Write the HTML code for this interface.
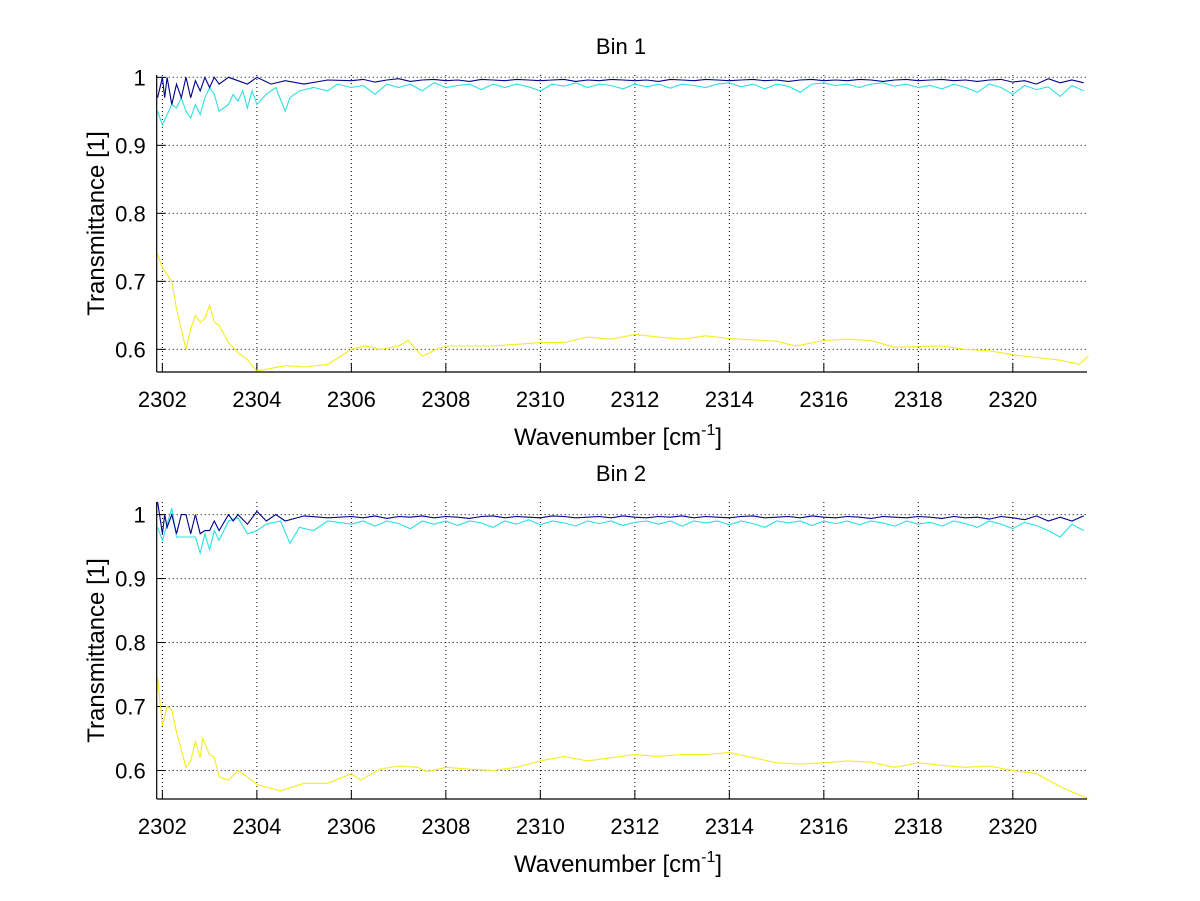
<!DOCTYPE html>
<html><head><meta charset="utf-8"><style>
html,body{margin:0;padding:0;background:#fff;}
svg{display:block;font-family:"Liberation Sans",sans-serif;}
</style></head><body>
<svg id="fig" width="1200" height="901" viewBox="0 0 1200 901"></svg>
<script>
const xTicks=[2302,2304,2306,2308,2310,2312,2314,2316,2318,2320];
const yTicks=[0.6,0.7,0.8,0.9,1];
const flatStart=2306, flatStep=0.25;

// Bin 1
const b1YellowX=[2301.9,2302.0,2302.1,2302.2,2302.3,2302.5,2302.6,2302.7,2302.8,2302.9,2303.0,2303.1,2303.2,2303.4,2303.6,2303.8,2304.0,2304.3,2304.6,2305,2305.5,2306,2306.3,2306.6,2307,2307.2,2307.5,2307.8,2308,2309,2310,2310.5,2311,2311.5,2312,2312.5,2313,2313.5,2314,2315,2315.4,2316,2316.5,2317,2317.5,2318,2318.5,2319,2319.5,2320,2320.5,2321,2321.4,2321.6];
const b1YellowY=[0.74,0.72,0.71,0.70,0.66,0.60,0.63,0.65,0.64,0.645,0.665,0.64,0.635,0.61,0.595,0.585,0.568,0.572,0.576,0.574,0.578,0.60,0.605,0.60,0.605,0.613,0.59,0.60,0.605,0.605,0.61,0.61,0.618,0.615,0.622,0.618,0.615,0.62,0.616,0.612,0.605,0.613,0.615,0.613,0.603,0.604,0.605,0.60,0.598,0.592,0.588,0.584,0.578,0.59];
const b1BlueX=[2301.9,2302.0,2302.05,2302.1,2302.2,2302.3,2302.4,2302.5,2302.6,2302.7,2302.8,2302.9,2303,2303.1,2303.2,2303.4,2303.6,2303.8,2304,2304.3,2304.6,2305,2305.5];
const b1BlueY=[0.97,1.0,0.97,1.0,0.96,0.99,0.97,1.0,0.97,0.995,0.98,1.0,0.985,1.0,0.99,1.0,0.995,0.99,1.0,0.99,0.995,0.99,0.996];
const b1BlueFlat=[0.995,0.997,0.993,0.996,0.998,0.994,0.996,0.997,0.995,0.996,0.994,0.997,0.996,0.995,0.997,0.996,0.995,0.996,0.997,0.994,0.996,0.995,0.997,0.996,0.995,0.996,0.994,0.997,0.996,0.995,0.997,0.996,0.995,0.996,0.997,0.995,0.996,0.994,0.996,0.997,0.995,0.996,0.995,0.997,0.996,0.994,0.996,0.997,0.995,0.996,0.997,0.995,0.996,0.994,0.996,0.997,0.993,0.995,0.99,0.998,0.992,0.996,0.992];
const b1CyanX=[2301.9,2302,2302.1,2302.2,2302.3,2302.4,2302.5,2302.6,2302.7,2302.8,2302.9,2303.0,2303.1,2303.2,2303.4,2303.5,2303.6,2303.7,2303.8,2303.9,2304.0,2304.2,2304.4,2304.6,2304.7,2304.9,2305.2,2305.5,2305.7];
const b1CyanY=[0.95,0.93,0.945,0.96,0.955,0.97,0.95,0.94,0.96,0.945,0.97,0.985,0.975,0.95,0.96,0.975,0.965,0.98,0.955,0.98,0.96,0.975,0.985,0.95,0.97,0.98,0.985,0.98,0.99];
const b1CyanFlat=[0.985,0.988,0.975,0.99,0.985,0.99,0.98,0.992,0.985,0.988,0.99,0.982,0.99,0.985,0.99,0.986,0.98,0.99,0.987,0.992,0.985,0.99,0.988,0.983,0.99,0.986,0.99,0.984,0.99,0.988,0.985,0.99,0.992,0.986,0.99,0.983,0.99,0.987,0.978,0.99,0.992,0.988,0.99,0.985,0.99,0.992,0.987,0.99,0.985,0.988,0.983,0.99,0.985,0.978,0.99,0.985,0.975,0.988,0.982,0.986,0.972,0.988,0.98];

// Bin 2
const b2YellowX=[2301.9,2302.0,2302.1,2302.2,2302.3,2302.5,2302.6,2302.7,2302.8,2302.85,2303,2303.1,2303.2,2303.4,2303.6,2303.8,2304,2304.5,2305,2305.5,2306,2306.2,2306.6,2307,2307.4,2307.6,2308,2308.5,2309,2309.5,2310,2310.5,2311,2311.5,2312,2312.5,2313,2313.5,2314,2314.5,2315,2315.5,2316,2316.5,2317,2317.5,2318,2318.5,2319,2319.5,2320,2320.5,2321,2321.3,2321.6];
const b2YellowY=[0.745,0.67,0.70,0.695,0.66,0.605,0.615,0.645,0.62,0.65,0.625,0.62,0.59,0.585,0.60,0.59,0.578,0.568,0.58,0.58,0.595,0.585,0.602,0.607,0.605,0.598,0.605,0.602,0.60,0.605,0.615,0.622,0.615,0.62,0.625,0.622,0.625,0.625,0.628,0.62,0.612,0.61,0.612,0.615,0.613,0.605,0.612,0.608,0.605,0.607,0.60,0.595,0.575,0.565,0.556];
const b2BlueX=[2301.9,2302,2302.05,2302.1,2302.2,2302.3,2302.4,2302.5,2302.6,2302.7,2302.8,2302.9,2303,2303.1,2303.2,2303.4,2303.5,2303.6,2303.8,2304,2304.2,2304.4,2304.6,2305,2305.5];
const b2BlueY=[1.02,0.97,1.0,0.98,1.0,0.97,1.0,1.0,0.97,1.0,0.97,0.975,0.975,0.99,0.975,1.0,0.99,1.0,0.985,1.005,0.99,1.0,0.99,0.998,0.995];
const b2BlueFlat=[0.997,0.995,0.998,0.994,0.997,0.996,0.998,0.995,0.997,0.996,0.994,0.997,0.998,0.995,0.997,0.996,0.995,0.998,0.997,0.995,0.996,0.997,0.995,0.998,0.996,0.995,0.997,0.996,0.998,0.995,0.997,0.996,0.995,0.997,0.998,0.995,0.996,0.997,0.995,0.998,0.996,0.995,0.997,0.996,0.994,0.997,0.996,0.995,0.997,0.996,0.994,0.997,0.995,0.996,0.993,0.997,0.995,0.992,0.998,0.99,0.996,0.99,0.998];
const b2CyanX=[2301.9,2302,2302.1,2302.2,2302.3,2302.5,2302.7,2302.8,2302.9,2303,2303.1,2303.2,2303.4,2303.6,2303.8,2304,2304.2,2304.5,2304.7,2304.9,2305.2,2305.5];
const b2CyanY=[0.98,0.96,0.985,1.01,0.965,0.965,0.965,0.94,0.97,0.945,0.975,0.96,0.99,0.995,0.97,0.975,0.985,0.99,0.955,0.98,0.975,0.99];
const b2CyanFlat=[0.985,0.99,0.982,0.99,0.986,0.978,0.99,0.985,0.99,0.983,0.99,0.987,0.98,0.99,0.985,0.992,0.984,0.99,0.987,0.982,0.99,0.986,0.99,0.983,0.988,0.99,0.985,0.99,0.982,0.99,0.987,0.99,0.984,0.99,0.986,0.98,0.99,0.987,0.99,0.983,0.99,0.986,0.99,0.984,0.99,0.987,0.982,0.99,0.985,0.988,0.982,0.99,0.986,0.98,0.99,0.985,0.978,0.988,0.983,0.975,0.965,0.985,0.975];

const NS='http://www.w3.org/2000/svg';
const svg=document.getElementById('fig');
function el(tag,attrs,parent){const e=document.createElementNS(NS,tag);for(const k in attrs)e.setAttribute(k,attrs[k]);(parent||svg).appendChild(e);return e;}
function withFlat(xs,ys,flat){const X=xs.slice(),Y=ys.slice();flat.forEach((v,i)=>{X.push(flatStart+flatStep*i);Y.push(v);});return [X,Y];}

function panel(cfg){
  const g=el('g',{});
  
  
  const L=156.7,R=1087,T=cfg.top,B=cfg.bottom;
  const xs=v=>L+(v-cfg.xmin)/(cfg.xmax-cfg.xmin)*(R-L);
  const ys=v=>B-(v-cfg.ymin)/(cfg.ymax-cfg.ymin)*(B-T);
  xTicks.forEach(t=>{
    const x=xs(t);
    const gl=el('line',{x1:x,x2:x,y1:T,y2:B,stroke:'#000','stroke-width':1,'stroke-dasharray':'1,3'},g);
    
    
    el('line',{x1:x,x2:x,y1:B,y2:B-9,stroke:'#000','stroke-width':1},g);
    const tx=el('text',{x:x,y:B+35,'font-size':22,'text-anchor':'middle',fill:'#000'},g);
    tx.textContent=t;
    
    
  });
  yTicks.forEach(t=>{
    const y=ys(t);
    const gl=el('line',{x1:L,x2:R,y1:y,y2:y,stroke:'#000','stroke-width':1,'stroke-dasharray':'1,3'},g);
    
    
    el('line',{x1:L,x2:L+9,y1:y,y2:y,stroke:'#000','stroke-width':1},g);
    const tx=el('text',{x:L-11,y:y+8,'font-size':22,'text-anchor':'end',fill:'#000'},g);
    tx.textContent=t===1?'1':t.toFixed(1);
    
    
  });
  cfg.series.forEach(s=>{
    const pts=s.x.map((v,i)=>xs(v).toFixed(1)+','+ys(s.y[i]).toFixed(1)).join(' ');
    const p=el('polyline',{points:pts,fill:'none',stroke:s.color,'stroke-width':1.1},g);
    
    
  });
  const ax=el('line',{x1:L,x2:R,y1:B,y2:B,stroke:'#000','stroke-width':1.2},g);
  
  
  const ay=el('line',{x1:L,x2:L,y1:T,y2:B,stroke:'#000','stroke-width':1.2},g);
  
  
  const ti=el('text',{x:621,y:T-21,'font-size':22,'text-anchor':'middle',fill:'#000'},g);
  ti.textContent=cfg.title;
  
  
  const xl=el('text',{x:618,y:B+73,'font-size':24,'text-anchor':'middle',fill:'#000'},g);
  xl.innerHTML='Wavenumber [cm<tspan dy="-10" font-size="16">-1</tspan><tspan dy="10">]</tspan>';
  
  
  const cy=(T+B)/2;
  const yl=el('text',{x:0,y:0,'font-size':24,'text-anchor':'middle',fill:'#000',transform:'translate(104,'+cy+') rotate(-90)'},g);
  yl.textContent='Transmittance [1]';
  
  
}

const [b1bx,b1by]=withFlat(b1BlueX,b1BlueY,b1BlueFlat);
const [b1cx,b1cy]=withFlat(b1CyanX,b1CyanY,b1CyanFlat);
const [b2bx,b2by]=withFlat(b2BlueX,b2BlueY,b2BlueFlat);
const [b2cx,b2cy]=withFlat(b2CyanX,b2CyanY,b2CyanFlat);

panel({name:'bin-1-panel',title:'Bin 1',top:75,bottom:372,xmin:2301.88,xmax:2321.57,ymin:0.5667,ymax:1.0034,
  series:[{name:'bin1-yellow-line',x:b1YellowX,y:b1YellowY,color:'#f2ee1c'},
          {name:'bin1-cyan-line',x:b1cx,y:b1cy,color:'#2ee0e0'},
          {name:'bin1-navy-line',x:b1bx,y:b1by,color:'#00008c'}]});
panel({name:'bin-2-panel',title:'Bin 2',top:502,bottom:799,xmin:2301.88,xmax:2321.57,ymin:0.5554,ymax:1.0197,
  series:[{name:'bin2-yellow-line',x:b2YellowX,y:b2YellowY,color:'#f2ee1c'},
          {name:'bin2-cyan-line',x:b2cx,y:b2cy,color:'#2ee0e0'},
          {name:'bin2-navy-line',x:b2bx,y:b2by,color:'#00008c'}]});
</script>
</body></html>
